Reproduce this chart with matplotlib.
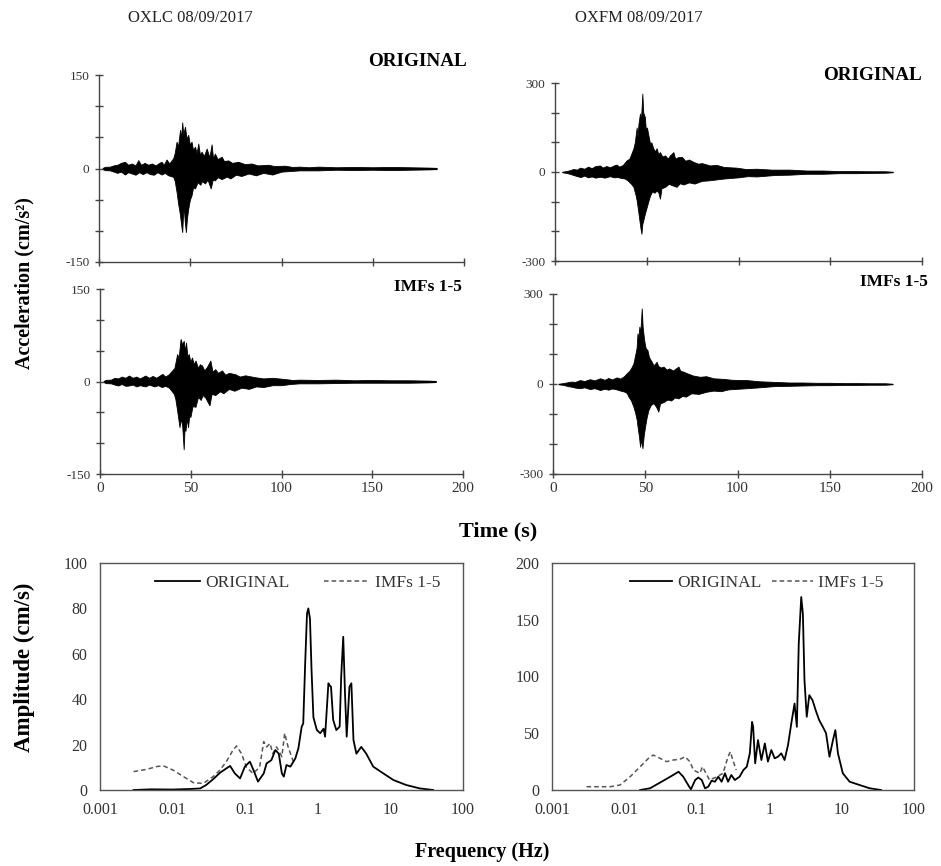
import matplotlib
matplotlib.use("Agg")
import matplotlib.pyplot as plt
from matplotlib.ticker import FixedLocator, NullFormatter, FixedFormatter

plt.rcParams['font.family'] = ['Liberation Serif', 'DejaVu Serif']

# ---------------- Time histories: envelope (time s, acceleration cm/s2) ----------------
oxlc_orig_upper = [(2, 1), (3.3, 2.7), (6, 3), (8, 5), (10, 6), (12, 9), (14.2, 10.8), (16, 6), (18, 8), (20, 5),
                   (21.5, 13.4), (23, 6), (25, 9), (27, 6), (29, 8), (31, 5), (33, 9), (34.3, 10.8), (35.5, 6),
                   (37, 14.5), (38.5, 8), (40.7, 16.7), (41.5, 25), (42.5, 43), (43.3, 35), (44.4, 62), (45, 50),
                   (45.6, 74), (46.2, 55), (47.1, 67), (48, 48), (48.9, 54), (49.8, 38), (50.7, 43), (51.5, 30),
                   (52.6, 35), (53.5, 25), (54.4, 40), (55.3, 22), (56.2, 27), (57.5, 20), (59, 32), (60.5, 18),
                   (61.7, 38.7), (62.5, 16), (63.5, 24), (65, 15), (67.2, 19), (68.5, 12), (70.8, 13), (73, 9),
                   (76.3, 10.8), (80, 7), (83.6, 8), (87, 5), (92.7, 6), (96, 4), (101.9, 4.5), (106, 2.5), (110, 3),
                   (115, 2), (120, 3), (130, 2), (140, 2.5), (150, 2), (160, 2.5), (170, 2), (180, 1.5), (185, 1)]
oxlc_orig_lower = [(2, -1), (3.3, -2.7), (6, -3), (8, -5), (10, -7), (12, -5), (14.2, -9.7), (16, -6), (18, -8),
                   (20, -10), (22, -6), (24, -9), (26, -6), (28, -9), (30, -10), (32, -6), (34.3, -9.7), (36, -7),
                   (38, -11), (40.7, -13.4), (41.5, -20), (42.5, -37.6), (43.3, -55), (44.4, -75), (45, -90),
                   (45.6, -102), (46.1, -70), (46.5, -64.5), (47, -85), (47.6, -102), (48.2, -80), (48.9, -64.5),
                   (49.8, -50), (50.7, -43), (51.6, -30), (52.6, -32), (54, -22), (55.5, -26), (56.5, -20),
                   (58, -24), (59.5, -18), (61.2, -32), (62.3, -18), (63.5, -19), (65, -14), (67.2, -17),
                   (70, -13), (72, -16), (75, -10), (78, -12), (82, -8), (86, -11), (90, -7), (95, -9.7),
                   (100, -5), (105, -4), (110, -3), (120, -3), (130, -2), (140, -2.5), (150, -2), (160, -2.5),
                   (170, -2), (180, -1.5), (185, -1)]

oxlc_imf_upper = [(2, 1), (3.3, 2.7), (6, 3), (8, 6), (10, 5), (12, 8), (14, 6), (16, 9.7), (18, 6), (20, 8),
                  (22, 5), (25, 9.7), (27, 6), (29, 9), (31, 6), (34.3, 12.4), (36, 8), (38, 12), (39.7, 17.7),
                  (41, 22), (42.5, 44.6), (43.3, 38), (44.4, 69), (45.3, 60), (46.1, 66), (46.8, 50), (47.4, 63),
                  (48.2, 40), (48.9, 44.6), (49.8, 32), (50.7, 39), (51.6, 28), (52.6, 34), (54, 22), (55, 28),
                  (56.2, 26), (57.5, 18), (59, 24), (60.8, 34), (62, 16), (63.5, 20), (65, 14), (67.2, 18),
                  (69, 11), (71, 14), (74.4, 12), (77, 8), (80, 10), (85.4, 7), (90, 5), (95, 6), (101.9, 4),
                  (106, 2.5), (110, 3), (120, 2.5), (130, 3), (140, 2), (150, 2.5), (160, 2), (170, 2),
                  (180, 1.5), (185, 1)]
oxlc_imf_lower = [(2, -1), (3.3, -2.7), (6, -3), (8, -5), (10, -6.5), (12, -4), (14, -7), (16, -6.5), (18, -5),
                  (20, -8), (22, -6), (25, -8), (27, -5), (30, -8), (32, -6), (34, -9), (36, -7), (38, -10),
                  (40.7, -20), (41.5, -28), (42.5, -47), (43.8, -74), (44.5, -60), (45.3, -72), (46.1, -110),
                  (46.6, -75), (47.1, -80), (47.8, -60), (48.5, -74), (49.2, -55), (49.8, -57.6), (51, -40),
                  (52.6, -41), (54, -25), (55.5, -30), (56.5, -22), (58, -26), (60.3, -38.7), (61.5, -20),
                  (63.5, -22), (66, -16), (68, -19), (71, -12), (74, -15), (78, -10), (82, -12), (86, -8),
                  (90, -9), (95, -6), (100, -6), (105, -4), (110, -3), (120, -3), (130, -2.5), (140, -2),
                  (150, -2), (160, -2), (170, -2), (180, -1.5), (185, -1)]

oxfm_orig_upper = [(4, 1), (6.4, 3.4), (8, 6), (10, 10), (12, 8), (13.6, 14.6), (16, 11), (18, 18), (20, 13),
                   (22, 20), (24.5, 22), (26, 15), (28, 20), (30, 16), (32, 22), (33.6, 25), (35, 18), (37, 24),
                   (39, 39), (40.5, 45), (41.5, 60), (42.7, 79), (43.5, 100), (44.5, 150), (45, 120), (45.5, 163),
                   (46.3, 197), (46.8, 170), (47.6, 264), (48.1, 200), (49, 185), (49.5, 140), (50.1, 150),
                   (50.9, 124), (51.8, 95), (52.5, 100), (53.6, 79), (54.5, 70), (55.4, 80), (56.3, 60),
                   (57.2, 67), (58.5, 52), (60, 56), (61.5, 45), (62.5, 55), (64.5, 67), (65.5, 45), (67, 50),
                   (69.1, 51), (71, 38), (73, 42), (75.5, 34), (78, 28), (80, 30), (84.5, 22), (88, 24), (92, 17),
                   (99, 14.6), (104, 10), (110, 11), (118, 8), (128, 8), (137, 5), (146, 5), (155, 3), (164, 3),
                   (172, 2.5), (180, 2.5), (184, 1)]
oxfm_orig_lower = [(4, -1), (6.4, -3.4), (8, -6), (10, -10), (12, -14), (14, -17), (16, -12), (18, -18),
                   (20, -15), (22, -19), (24.5, -16), (27, -19), (30, -14), (32, -18), (34, -17), (36, -20),
                   (38, -22), (39.5, -28), (41.5, -40), (42.7, -50), (43.8, -75), (44.5, -95), (45.3, -130),
                   (46, -163), (46.6, -190), (47.1, -208), (47.6, -175), (48.1, -163), (49, -140), (50, -118),
                   (50.8, -100), (51.8, -79), (53, -65), (54.2, -70), (55.4, -62), (56.4, -70), (57.2, -90),
                   (58, -55), (60, -50), (62, -40), (64, -45), (66.3, -50), (68, -38), (70, -42), (73, -35),
                   (76, -39), (80, -30), (84, -28), (88, -25), (92, -22), (96, -20), (100, -18), (105, -14),
                   (110, -15), (120, -10), (128, -9), (137, -6), (146, -6), (155, -4), (164, -4), (172, -3),
                   (180, -2.5), (184, -1)]

oxfm_imf_upper = [(3, 1), (5.6, 3), (8, 6), (10, 8), (12, 7), (14.6, 13), (17, 10), (20, 16), (22.5, 12),
                  (25.5, 19), (28, 14), (30, 20), (32, 15), (34.5, 22), (36.5, 18), (38.5, 26), (40, 36),
                  (41.5, 45), (42.5, 55), (43.6, 69), (44.5, 95), (45.3, 120), (45.8, 169), (46.3, 150),
                  (46.8, 191), (47.3, 170), (48.1, 252), (48.6, 190), (49.4, 147), (50.2, 120), (51.2, 113),
                  (52, 90), (53.5, 74), (54.5, 62), (56.2, 74), (57, 60), (58.5, 55), (59.9, 58), (61.5, 48),
                  (63, 52), (65, 45), (68, 58), (69, 44), (70.7, 41), (73, 35), (76, 28), (79.7, 24), (83, 26),
                  (87, 19), (92.4, 17), (97, 14), (105, 13), (112, 9), (120, 7), (128, 5), (135, 5), (143, 4),
                  (150, 4), (158, 3), (165, 3), (172, 2.5), (180, 2.5), (184, 1)]
oxfm_imf_lower = [(3, -1), (5.6, -3), (8, -7), (10, -9), (12, -12), (14.6, -14), (17, -11), (20, -17),
                  (22.5, -14), (25.5, -20), (28, -16), (30, -19), (32, -15), (34.5, -18), (36.5, -22),
                  (38.5, -25), (40, -30), (40.9, -42), (42.3, -55), (43.6, -76), (44.5, -95), (45.4, -120),
                  (46, -150), (46.6, -175), (47.2, -209), (47.8, -185), (48.5, -214), (49.2, -170),
                  (49.9, -142), (50.8, -110), (51.7, -87), (53, -70), (54.4, -64), (55.8, -75), (57.1, -92),
                  (58, -65), (59.9, -60), (62, -52), (64, -55), (66, -45), (68, -48), (70, -40), (72, -42),
                  (75, -31), (79, -33), (83, -26), (87, -22), (91, -24), (95, -18), (100, -16), (105, -14),
                  (112, -11), (120, -7), (128, -6), (135, -5), (143, -4), (150, -4), (158, -3), (165, -3),
                  (172, -2.5), (180, -2.5), (184, -1)]

# ---------------- Fourier spectra (Hz, cm/s) ----------------
oxlc_f_orig = [0.0029, 0.005, 0.01, 0.019, 0.024, 0.029, 0.036, 0.045, 0.055, 0.062, 0.072, 0.085, 0.099,
               0.116, 0.13, 0.15, 0.18, 0.197, 0.23, 0.26, 0.29, 0.32, 0.34, 0.37, 0.42, 0.49, 0.54, 0.60,
               0.63, 0.67, 0.71, 0.74, 0.78, 0.82, 0.87, 0.97, 1.08, 1.2, 1.26, 1.40, 1.46, 1.52, 1.63, 1.8,
               2.0, 2.1, 2.24, 2.37, 2.5, 2.73, 2.9, 3.1, 3.4, 3.97, 4.65, 5.8, 8.0, 11, 16.5, 25.4, 38.8]
oxlc_a_orig = [0, 0.3, 0.2, 0.5, 0.7, 2.2, 4.7, 7.6, 9.5, 10.6, 7.3, 5.1, 10.3,
               12.5, 8.8, 3.7, 7.3, 11.7, 13.2, 17.6, 16, 7.3, 5.9, 11, 10.3, 13.9, 18.3, 27.9,
               29.3, 55.7, 77.7, 80, 75.5, 52.8, 32, 26.4, 25, 27, 23.5, 47, 46, 45.5, 30.8, 26.4,
               27.9, 49.9, 67.5, 42.5, 23.5, 45.5, 47, 22, 16, 19, 16, 10.3, 7.3, 4.4, 2.2, 0.7, 0]
oxlc_f_imf = [0.0029, 0.0044, 0.006, 0.0074, 0.0101, 0.0141, 0.0194, 0.0265, 0.0362, 0.045, 0.055, 0.068,
              0.076, 0.089, 0.104, 0.128, 0.158, 0.18, 0.197, 0.22, 0.24, 0.27, 0.32, 0.35, 0.39, 0.46]
oxlc_a_imf = [8.1, 9.1, 10.3, 10.7, 8.8, 5.9, 3.2, 2.9, 5.9, 8.8, 12.5, 17.6,
              19.4, 16, 10, 7.3, 10, 21.3, 19, 20.5, 16, 19, 14.7, 25, 19, 12.5]

oxfm_f_orig = [0.0165, 0.0226, 0.031, 0.043, 0.056, 0.065, 0.076, 0.083, 0.095, 0.105, 0.117, 0.13, 0.144,
               0.16, 0.178, 0.198, 0.22, 0.245, 0.27, 0.30, 0.335, 0.39, 0.44, 0.49, 0.54, 0.58, 0.60, 0.64,
               0.70, 0.78, 0.87, 0.96, 1.07, 1.19, 1.32, 1.47, 1.63, 1.82, 2.02, 2.24, 2.41, 2.56, 2.77,
               2.92, 3.07, 3.30, 3.58, 3.97, 4.4, 4.9, 5.5, 6.1, 6.8, 7.6, 8.2, 8.9, 10.4, 12.9, 17.7,
               24.5, 35]
oxfm_a_orig = [0, 1.5, 6.5, 11.7, 16.1, 11.7, 4.4, 0.6, 8.8, 11, 8.8, 1.5, 2.9,
               8.2, 7.3, 11.7, 7.3, 14.7, 7.3, 13.2, 8.8, 11.7, 17.6, 20.5, 32.3, 60, 55.7, 23.5,
               44, 26.4, 41, 25, 35.2, 27.9, 29.3, 32.3, 26.4, 39.6, 58.7, 76.2, 55.7, 129, 170,
               155, 96.8, 64.5, 83.6, 79, 70, 61.6, 55.7, 50, 29.3, 44, 52.8, 32.3, 14.7, 7.3, 4.4,
               1.5, 0]
oxfm_f_imf = [0.003, 0.0064, 0.0087, 0.012, 0.0165, 0.0215, 0.025, 0.031, 0.038, 0.047, 0.058, 0.069,
              0.08, 0.09, 0.11, 0.12, 0.15, 0.19, 0.23, 0.27, 0.29, 0.32, 0.35]
oxfm_a_imf = [2.9, 2.9, 4.4, 11.7, 20.5, 27.9, 30.8, 27.9, 25, 26.4, 27, 29.3,
              25, 17.6, 14.7, 20.5, 8.8, 11.7, 14.7, 29.3, 33.7, 25, 17.6]

station_titles = ["OXLC 08/09/2017", "OXFM 08/09/2017"]
panel_tags = ["ORIGINAL", "IMFs 1-5"]
legend_labels = ["ORIGINAL", "IMFs 1-5"]
time_ticks = [0, 50, 100, 150, 200]
freq_ticks = [0.001, 0.01, 0.1, 1, 10, 100]
freq_labels = ["0.001", "0.01", "0.1", "1", "10", "100"]

W, H = 941, 866
fig = plt.figure(figsize=(W / 100, H / 100), dpi=100)


def rect(x0, y0, x1, y1):
    return [x0 / W, 1 - y1 / H, (x1 - x0) / W, (y1 - y0) / H]


AX_C = '#444444'
TK_C = '#333333'


def ts_axis(r, upper, lower, lim, xlabels):
    ax = fig.add_axes(r)
    tu = [p[0] for p in upper]
    vu = [p[1] for p in upper]
    tl = [p[0] for p in lower]
    vl = [p[1] for p in lower]
    ax.fill_between(tu, 0, vu, color='black', lw=0.6, edgecolor='black')
    ax.fill_between(tl, vl, 0, color='black', lw=0.6, edgecolor='black')
    ax.set_xlim(0, 200)
    ax.set_ylim(-lim, lim)
    for s in ['top', 'right']:
        ax.spines[s].set_visible(False)
    for s in ['left', 'bottom']:
        ax.spines[s].set_color(AX_C)
        ax.spines[s].set_linewidth(1.0)
    ax.yaxis.set_major_locator(FixedLocator([-lim, 0, lim]))
    ax.yaxis.set_minor_locator(FixedLocator([-lim * 2 / 3, -lim / 3, lim / 3, lim * 2 / 3]))
    ax.set_yticklabels([str(-lim), "0", str(lim)])
    ax.xaxis.set_major_locator(FixedLocator(time_ticks))
    if xlabels:
        ax.set_xticklabels([str(v) for v in time_ticks])
    else:
        ax.xaxis.set_major_formatter(NullFormatter())
    ax.tick_params(which='both', direction='inout', length=6, width=1.0, color=AX_C,
                   labelsize=9.5, labelcolor=TK_C, pad=2)
    ax.tick_params(axis='x', which='major', labelsize=11, pad=3)
    ax.tick_params(axis='y', which='major', pad=4)
    return ax


ax1 = ts_axis(rect(99, 75, 464, 262), oxlc_orig_upper, oxlc_orig_lower, 150, False)
ax2 = ts_axis(rect(100, 289, 463, 474), oxlc_imf_upper, oxlc_imf_lower, 150, True)
ax3 = ts_axis(rect(555, 83, 922, 261), oxfm_orig_upper, oxfm_orig_lower, 300, False)
ax4 = ts_axis(rect(553, 294, 922, 474), oxfm_imf_upper, oxfm_imf_lower, 300, True)


def spec_axis(r, fo, ao, fi, ai, ymax, ystep, leg_x, handle_len, col_sp):
    ax = fig.add_axes(r)
    l1, = ax.plot(fi, ai, color='#555555', lw=1.1, ls=(0, (3, 2)))
    l2, = ax.plot(fo, ao, color='black', lw=1.3)
    ax.set_xscale('log')
    ax.set_xlim(0.001, 100)
    ax.set_ylim(0, ymax)
    ax.xaxis.set_major_locator(FixedLocator(freq_ticks))
    ax.xaxis.set_major_formatter(FixedFormatter(freq_labels))
    ax.xaxis.set_minor_locator(FixedLocator([]))
    ax.set_yticks(list(range(0, ymax + 1, ystep)))
    for s in ax.spines.values():
        s.set_color('#555555')
        s.set_linewidth(1.0)
    ax.tick_params(which='both', length=0, labelsize=11.5, labelcolor=TK_C)
    ax.tick_params(axis='y', pad=9)
    ax.tick_params(axis='x', pad=9)
    ax.legend([l2, l1], legend_labels, loc='center left', ncol=2, frameon=False,
              fontsize=12.5, handlelength=handle_len, columnspacing=col_sp, handletextpad=0.3,
              borderpad=0, borderaxespad=0, bbox_to_anchor=(leg_x, 1 - 20 / 227),
              labelcolor='#333333')
    return ax


ax5 = spec_axis(rect(100, 563, 463, 790), oxlc_f_orig, oxlc_a_orig, oxlc_f_imf, oxlc_a_imf, 100, 20,
                (155 - 100) / 363, 2.6, 2.0)
ax6 = spec_axis(rect(552, 563, 914, 790), oxfm_f_orig, oxfm_a_orig, oxfm_f_imf, oxfm_a_imf, 200, 50,
                (630 - 552) / 362, 2.4, 0.6)

# Titles and tags
fig.text(190 / W, 1 - 18 / H, station_titles[0], ha='center', va='center', fontsize=12, color='#222222')
fig.text(639 / W, 1 - 18 / H, station_titles[1], ha='center', va='center', fontsize=12, color='#222222')
fig.text(467 / W, 1 - 62 / H, panel_tags[0], ha='right', va='center', fontsize=13.8, fontweight='bold')
fig.text(462 / W, 1 - 287 / H, panel_tags[1], ha='right', va='center', fontsize=12.5, fontweight='bold')
fig.text(922 / W, 1 - 75 / H, panel_tags[0], ha='right', va='center', fontsize=13.8, fontweight='bold')
fig.text(860 / W, 1 - 282 / H, panel_tags[1], ha='left', va='center', fontsize=12.5, fontweight='bold')

fig.text(24 / W, 1 - 283 / H, "Acceleration (cm/s²)", rotation=90, ha='center', va='center',
         fontsize=14.5, fontweight='bold')
fig.text(498 / W, 1 - 531 / H, "Time (s)", ha='center', va='center', fontsize=16, fontweight='bold')
fig.text(24 / W, 1 - 667 / H, "Amplitude (cm/s)", rotation=90, ha='center', va='center',
         fontsize=16.5, fontweight='bold')
fig.text(482 / W, 1 - 852 / H, "Frequency (Hz)", ha='center', va='center', fontsize=14.5, fontweight='bold')

fig.savefig("out.png", dpi=100)
